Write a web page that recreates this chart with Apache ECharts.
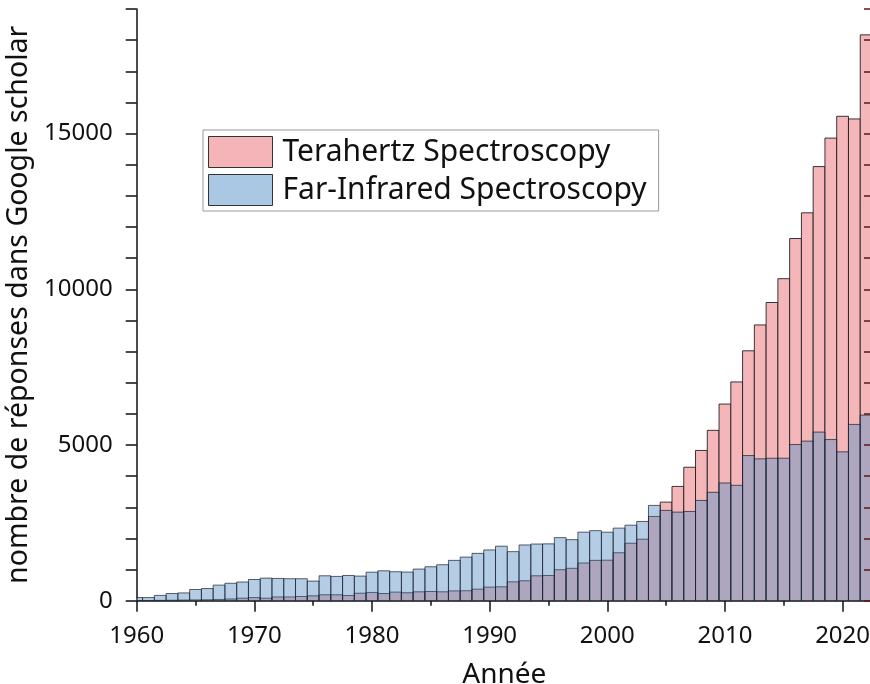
<!DOCTYPE html>
<html>
<head>
<meta charset="utf-8">
<script src="https://cdn.jsdelivr.net/npm/echarts@6/dist/echarts.min.js"></script>
<style>
html, body { margin: 0; padding: 0; background: #fff; }
#echa1 { width: 870px; height: 684px; }
</style>
</head>
<body>
<div id="echa1"></div>
<script>
var years = [];
for (var yr = 1960; yr <= 2022; yr++) years.push(yr);

// Terahertz Spectroscopy, one value per year 1960..2022
var terahertz = [
    5, 5, 10, 15, 20, 25, 30, 40, 55, 80,
    100, 80, 120, 120, 135, 155, 190, 190, 165, 240,
    265, 230, 275, 255, 285, 295, 285, 315, 320, 370,
    435, 445, 605, 640, 800, 810, 995, 1040, 1210, 1295,
    1300, 1540, 1845, 1975, 2705, 3165, 3670, 4285, 4825, 5470,
    6315, 7025, 8025, 8855, 9575, 10340, 11630, 12455, 13940, 14855,
    15555, 15470, 18170
];

// Far-Infrared Spectroscopy
var farInfrared = [
    100, 100, 170, 230, 250, 360, 390, 500, 560, 600,
    680, 725, 715, 705, 705, 630, 800, 780, 810, 790,
    915, 960, 930, 920, 1015, 1090, 1155, 1295, 1400, 1520,
    1630, 1750, 1575, 1790, 1820, 1825, 2025, 1960, 2200, 2250,
    2200, 2330, 2425, 2545, 3060, 2900, 2845, 2865, 3220, 3480,
    3780, 3705, 4660, 4555, 4575, 4575, 5015, 5125, 5415, 5175,
    4780, 5660, 5960
];

var seriesNames = ['Terahertz Spectroscopy', 'Far-Infrared Spectroscopy'];

function pairs(vals) {
    return years.map(function (y, i) { return [y, vals[i]]; });
}

function histRender(fill, stroke) {
    return function (params, api) {
        var x = api.value(0), v = api.value(1);
        var a = api.coord([x - 0.5, v]);
        var b = api.coord([x + 0.5, 0]);
        return {
            type: 'rect',
            shape: { x: a[0], y: a[1], width: b[0] - a[0], height: b[1] - a[1] },
            style: { fill: fill, stroke: stroke, lineWidth: 1 }
        };
    };
}

var myChart = echarts.init(document.getElementById('echa1'));
var txt = '#111';
var font = 'Noto Sans';

var option = {
    animation: false,
    textStyle: { fontFamily: font },
    grid: { left: 136.7, right: -2, top: 9, bottom: 83.3, outerBoundsMode: 'none', containLabel: false },
    legend: {
        orient: 'vertical',
        left: 203, top: 130,
        padding: [6, 12, 5, 5],
        borderColor: '#999', borderWidth: 1,
        itemWidth: 64, itemHeight: 31, itemGap: 6,
        icon: 'rect',
        textStyle: { fontFamily: font, fontSize: 30, color: txt, padding: [0, 0, 0, 5] },
        data: [
            { name: seriesNames[0], itemStyle: { color: '#f5b4b8', borderColor: '#333', borderWidth: 1 } },
            { name: seriesNames[1], itemStyle: { color: '#aac8e3', borderColor: '#333', borderWidth: 1 } }
        ]
    },
    xAxis: {
        type: 'value',
        min: 1960, max: 2022.5, interval: 10,
        name: 'Année', nameLocation: 'middle', nameGap: 60,
        nameTextStyle: { fontSize: 28, color: txt, fontFamily: font },
        axisLine: { lineStyle: { color: '#111', width: 1.5 } },
        axisTick: { length: 11, lineStyle: { color: '#111', width: 1.5 } },
        minorTick: { show: true, splitNumber: 2, length: 5, lineStyle: { color: '#111', width: 1.5 } },
        axisLabel: {
            fontSize: 24, color: txt, margin: 23,
            formatter: function (v) { return String(v); }
        },
        splitLine: { show: false }
    },
    yAxis: [{
        type: 'value',
        min: 0, max: 19000, interval: 1000,
        name: 'nombre de réponses dans Google scholar', nameLocation: 'middle', nameGap: 92,
        nameTextStyle: { fontSize: 28.5, color: txt, fontFamily: font },
        axisLine: { show: true, lineStyle: { color: '#111', width: 1.5 } },
        axisTick: { show: true, length: 11, lineStyle: { color: '#111', width: 1.5 } },
        axisLabel: {
            fontSize: 24, color: txt, margin: 24,
            formatter: function (v) { return v % 5000 === 0 ? String(v) : ''; }
        },
        splitLine: { show: false }
    }, {
        type: 'value',
        position: 'right',
        z: 5,
        min: 0, max: 19000, interval: 1000,
        axisLine: { show: true, lineStyle: { color: '#111', width: 1.5 } },
        axisTick: { show: true, inside: true, length: 8, lineStyle: { color: '#5a1a1a', width: 1.5 } },
        axisLabel: { show: false },
        splitLine: { show: false }
    }],
    series: [{
        name: seriesNames[0],
        type: 'custom',
        clip: true,
        itemStyle: { color: '#f5b4b8' },
        renderItem: histRender('#f4b6b9', 'rgba(25,25,25,0.85)'),
        encode: { x: 0, y: 1 },
        data: pairs(terahertz)
    }, {
        name: seriesNames[1],
        type: 'custom',
        clip: true,
        itemStyle: { color: '#aac8e3' },
        renderItem: histRender('rgba(88,144,197,0.45)', 'rgba(25,30,45,0.7)'),
        encode: { x: 0, y: 1 },
        data: pairs(farInfrared)
    }]
};

myChart.setOption(option);
</script>
</body>
</html>
